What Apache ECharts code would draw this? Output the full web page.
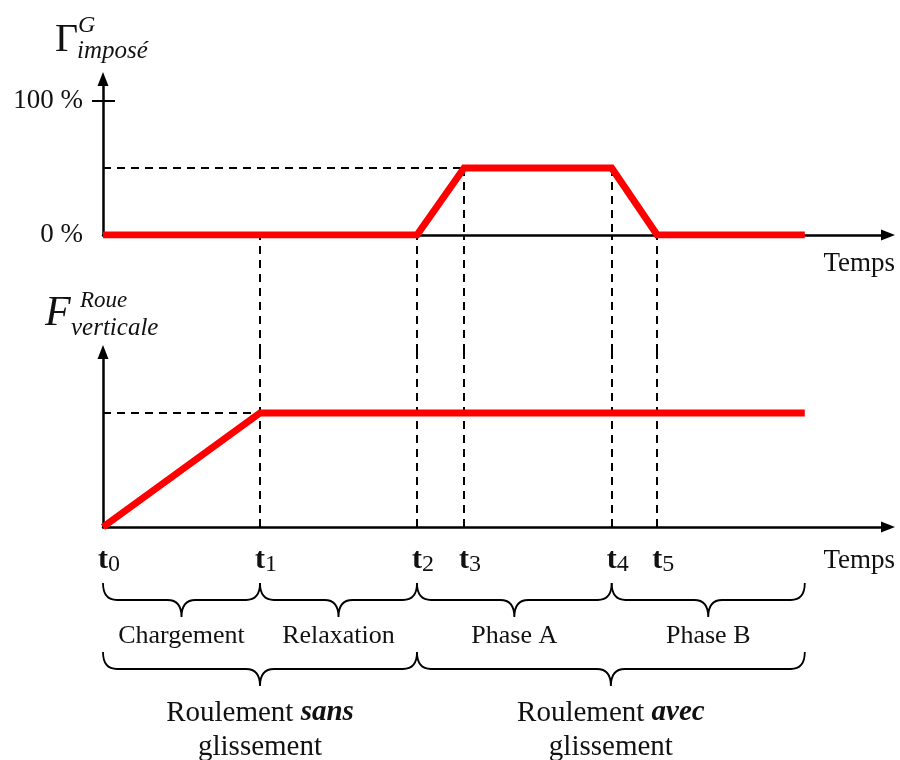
<!DOCTYPE html>
<html>
<head>
<meta charset="utf-8">
<script src="https://cdn.jsdelivr.net/npm/echarts@6/dist/echarts.min.js"></script>
<style>
  html, body { margin: 0; background: #fff; }
  #chart { width: 900px; height: 760px; }
</style>
</head>
<body>
<div id="chart"></div>
<script>
// time instants t0..t5 (t1 - t0 taken as the unit)
const timeMarks = [0, 1, 2, 2.3, 3.24, 3.53];
const timeSubs = ['0', '1', '2', '3', '4', '5'];
const timeEnd = 4.47;
const timeMax = 5.0;

// imposed torque (%)
const gammaT = [0, 2, 2.3, 3.24, 3.53, 4.47];
const gammaV = [0, 0, 50, 50, 0, 0];
const gammaLabels = [0, 100];
const gammaMax = 116.4;

// vertical wheel force (normalised)
const forceT = [0, 1, 4.47];
const forceV = [0, 1, 1];
const forceMax = 1.535;

// braces below the time axis: start, end, row
const braceStart = [0, 1, 2, 3.24, 0, 2];
const braceEnd = [1, 2, 3.24, 4.47, 2, 4.47];
const braceRow = [0, 0, 0, 0, 1, 1];
const braceNames = [
    'Chargement', 'Relaxation', 'Phase A', 'Phase B',
    'Roulement {b|sans}\nglissement', 'Roulement {b|avec}\nglissement'
];

const SERIF = 'Liberation Serif';
const dashed = { color: '#000', type: [8, 6], width: 2 };

const myChart = echarts.init(document.getElementById('chart'));

function axisArrow() {
    return {
        show: true,
        symbol: ['none', 'triangle'],
        symbolSize: [11, 14],
        lineStyle: { color: '#000', width: 2.5 }
    };
}

function hiddenAxis(grid, max, extra) {
    return Object.assign({ type: 'value', gridIndex: grid, min: 0, max: max, show: false }, extra || {});
}

function markLines(data) {
    return {
        silent: true,
        symbol: ['none', 'none'],
        label: { show: false },
        emphasis: { disabled: true },
        lineStyle: dashed,
        animation: false,
        data: data
    };
}

function renderBrace(params, api) {
    const i = params.dataIndex;
    const a = api.coord([api.value(0), api.value(2)]);
    const b = api.coord([api.value(1), api.value(2)]);
    const row = api.value(2);
    const h = 34;
    const r = 14;
    const x0 = a[0], x1 = b[0], y0 = a[1];
    const xm = (x0 + x1) / 2, ym = y0 + h / 2, yc = y0 + h;
    const path = 'M' + x0 + ' ' + y0 +
        'Q' + x0 + ' ' + ym + ' ' + (x0 + r) + ' ' + ym +
        'L' + (xm - r) + ' ' + ym +
        'Q' + xm + ' ' + ym + ' ' + xm + ' ' + yc +
        'Q' + xm + ' ' + ym + ' ' + (xm + r) + ' ' + ym +
        'L' + (x1 - r) + ' ' + ym +
        'Q' + x1 + ' ' + ym + ' ' + x1 + ' ' + y0;
    return {
        type: 'group',
        children: [
            {
                type: 'path',
                shape: { pathData: path },
                style: { fill: 'none', stroke: '#000', lineWidth: 1.8 }
            },
            {
                type: 'text',
                x: xm,
                y: yc + (row ? 10 : 5),
                style: {
                    text: braceNames[i],
                    align: 'center',
                    verticalAlign: 'top',
                    fill: '#111',
                    fontFamily: SERIF,
                    fontSize: row ? 29 : 26,
                    lineHeight: row ? 34 : 28,
                    rich: {
                        b: {
                            fontFamily: SERIF,
                            fontSize: 29,
                            fontWeight: 'bold',
                            fontStyle: 'italic',
                            lineHeight: 34,
                            fill: '#111'
                        }
                    }
                }
            }
        ]
    };
}

function tempsName(padTop) {
    return {
        name: 'Temps',
        nameLocation: 'end',
        nameGap: 7,
        nameTextStyle: {
            fontFamily: SERIF,
            fontSize: 27,
            color: '#111',
            align: 'right',
            verticalAlign: 'top',
            padding: [padTop, 0, 0, 0]
        }
    };
}

function titleText(text, left, top, size, italic) {
    return {
        text: text, left: left, top: top, padding: 0,
        textStyle: {
            fontFamily: SERIF, fontSize: size, fontWeight: 'normal',
            fontStyle: italic ? 'italic' : 'normal', color: '#111'
        }
    };
}

const option = {
    animation: false,
    backgroundColor: '#fff',
    title: [
        titleText('Γ', 55, 20, 40, false),
        titleText('G', 78, 14, 24, true),
        titleText('imposé', 77, 39, 25, true),
        titleText('F', 45, 293, 42, true),
        titleText('Roue', 80, 289, 23, true),
        titleText('verticale', 71, 316, 25, true)
    ],
    grid: [
        { left: 103, right: 12, top: 79, height: 156 },
        { left: 103, right: 12, top: 235, height: 117 },
        { left: 103, right: 12, top: 352, height: 175 },
        { left: 103, right: 12, top: 583, height: 69 }
    ],
    xAxis: [
        Object.assign({
            type: 'value', gridIndex: 0, min: 0, max: timeMax,
            axisLine: axisArrow(),
            axisTick: { show: false },
            axisLabel: { show: false },
            splitLine: { show: false }
        }, tempsName(15)),
        hiddenAxis(1, timeMax),
        Object.assign({
            type: 'value', gridIndex: 2, min: 0, max: timeMax,
            axisLine: axisArrow(),
            axisTick: { show: false },
            splitLine: { show: false },
            axisLabel: {
                customValues: timeMarks,
                margin: 16,
                formatter: function (v) {
                    return '{t|t}{s|' + timeSubs[timeMarks.indexOf(v)] + '}';
                },
                rich: {
                    t: { fontFamily: SERIF, fontSize: 30, fontWeight: 'bold', color: '#111',
                         padding: [0, 0, 0, 12], lineHeight: 34 },
                    s: { fontFamily: SERIF, fontSize: 24, color: '#111', lineHeight: 20,
                         verticalAlign: 'bottom' }
                }
            }
        }, tempsName(20)),
        hiddenAxis(3, timeMax)
    ],
    yAxis: [
        {
            type: 'value', gridIndex: 0, min: 0, max: gammaMax,
            axisLine: axisArrow(),
            axisTick: { show: true, customValues: [100], length: 11, lineStyle: { color: '#000', width: 2 } },
            axisLabel: {
                customValues: gammaLabels,
                formatter: '{value} %',
                margin: 20,
                fontFamily: SERIF,
                fontSize: 27,
                color: '#111'
            },
            splitLine: { show: false }
        },
        {
            type: 'value', gridIndex: 0, min: 0, max: gammaMax, position: 'left',
            axisLine: { show: false },
            axisTick: { show: true, inside: true, customValues: [100], length: 12, lineStyle: { color: '#000', width: 2 } },
            axisLabel: { show: false },
            splitLine: { show: false }
        },
        hiddenAxis(1, 1),
        {
            type: 'value', gridIndex: 2, min: 0, max: forceMax,
            axisLine: axisArrow(),
            axisTick: { show: false },
            axisLabel: { show: false },
            splitLine: { show: false }
        },
        hiddenAxis(3, 1, { inverse: true })
    ],
    series: [
        {
            type: 'line', xAxisIndex: 0, yAxisIndex: 0, z: 1,
            data: [],
            markLine: markLines([
                [{ coord: [0, gammaV[2]] }, { coord: [gammaT[2], gammaV[2]] }],
                [{ coord: [gammaT[2], gammaV[2]] }, { coord: [gammaT[2], 0] }],
                [{ coord: [gammaT[3], gammaV[3]] }, { coord: [gammaT[3], 0] }]
            ])
        },
        {
            type: 'line', xAxisIndex: 1, yAxisIndex: 2, z: 1,
            data: [],
            markLine: markLines(timeMarks.slice(1).map(function (t) { return { xAxis: t }; }))
        },
        {
            type: 'line', xAxisIndex: 2, yAxisIndex: 3, z: 1,
            data: [],
            markLine: markLines(
                timeMarks.slice(1).map(function (t) { return { xAxis: t }; }).concat([
                    [{ coord: [0, forceV[1]] }, { coord: [forceT[1], forceV[1]] }]
                ])
            )
        },
        {
            name: 'Gamma', type: 'line', xAxisIndex: 0, yAxisIndex: 0, z: 5,
            symbol: 'none',
            lineStyle: { color: '#ff0000', width: 7, join: 'miter' },
            data: gammaT.map(function (t, i) { return [t, gammaV[i]]; })
        },
        {
            name: 'Force', type: 'line', xAxisIndex: 2, yAxisIndex: 3, z: 5,
            symbol: 'none',
            lineStyle: { color: '#ff0000', width: 7, join: 'miter' },
            data: forceT.map(function (t, i) { return [t, forceV[i]]; })
        },
        {
            type: 'custom', xAxisIndex: 3, yAxisIndex: 4,
            renderItem: renderBrace,
            silent: true,
            encode: { x: [0, 1], y: 2 },
            data: braceStart.map(function (s, i) { return [s, braceEnd[i], braceRow[i]]; })
        }
    ]
};

myChart.setOption(option);
</script>
</body>
</html>
